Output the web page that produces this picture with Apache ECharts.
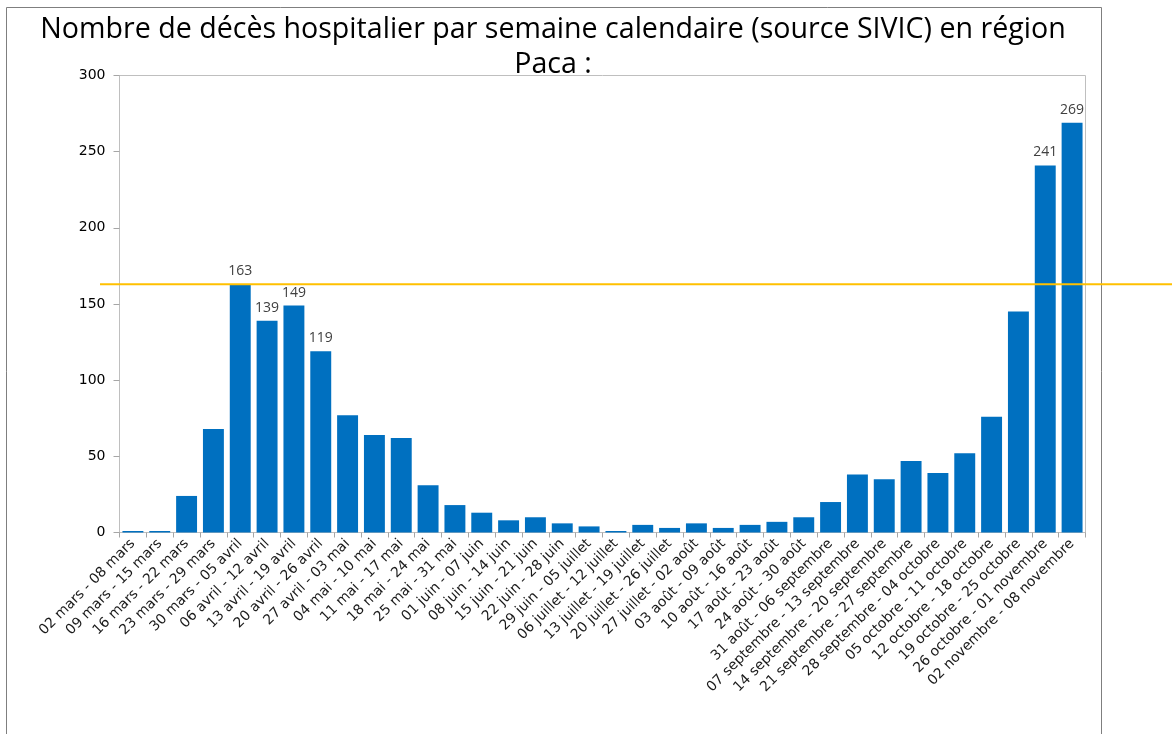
<!DOCTYPE html>
<html>
<head>
<meta charset="utf-8">
<script src="https://cdn.jsdelivr.net/npm/echarts@6/dist/echarts.min.js"></script>
<style>
html,body{margin:0;padding:0;background:#fff;}
#chart{width:1176px;height:734px;}
</style>
</head>
<body>
<div id="chart"></div>
<script>
const titleText = "Nombre de décès hospitalier par semaine calendaire (source SIVIC) en région\nPaca :";
const categories = [
  "02 mars - 08 mars","09 mars - 15 mars","16 mars - 22 mars","23 mars - 29 mars",
  "30 mars - 05 avril","06 avril - 12 avril","13 avril - 19 avril","20 avril - 26 avril",
  "27 avril - 03 mai","04 mai - 10 mai","11 mai - 17 mai","18 mai - 24 mai",
  "25 mai - 31 mai","01 juin - 07 juin","08 juin - 14 juin","15 juin - 21 juin",
  "22 juin - 28 juin","29 juin - 05 juillet","06 juillet - 12 juillet","13 juillet - 19 juillet",
  "20 juillet - 26 juillet","27 juillet - 02 août","03 août - 09 août","10 août - 16 août",
  "17 août - 23 août","24 août - 30 août","31 août - 06 septembre","07 septembre - 13 septembre",
  "14 septembre - 20 septembre","21 septembre - 27 septembre","28 septembre - 04 octobre","05 octobre - 11 octobre",
  "12 octobre - 18 octobre","19 octobre - 25 octobre","26 octobre - 01 novembre","02 novembre - 08 novembre"
];
const deces = [
  1, 1, 24, 68, 163, 139, 149, 119, 77, 64, 62, 31,
  18, 13, 8, 10, 6, 4, 1, 5, 3, 6, 3, 5,
  7, 10, 20, 38, 35, 47, 39, 52, 76, 145, 241, 269
];
const labelledIdx = [4, 5, 6, 7, 34, 35];
const refLevel = 163;
const yTicks = [0, 50, 100, 150, 200, 250, 300];

const chart = echarts.init(document.getElementById('chart'), null, {renderer: 'canvas'});
const axisFont = '"DejaVu Sans", sans-serif';

const seriesData = deces.map((v, i) => ({
  value: v,
  label: {show: labelledIdx.indexOf(i) >= 0}
}));

const option = {
  backgroundColor: '#ffffff',
  animation: false,
  title: {
    text: titleText,
    left: 548,
    textAlign: 'center',
    top: 7,
    textStyle: {
      fontFamily: '"Open Sans", sans-serif',
      fontSize: 28.6,
      fontWeight: 'normal',
      color: '#000000',
      lineHeight: 35
    }
  },
  grid: {
    left: 119.5,
    right: 90.5,
    top: 75.5,
    bottom: 201.5,
    show: true,
    borderColor: '#BFBFBF',
    borderWidth: 1,
    containLabel: false
  },
  xAxis: {
    type: 'category',
    data: categories,
    boundaryGap: true,
    axisLine: {show: true, lineStyle: {color: '#BFBFBF', width: 1}},
    axisTick: {show: true, alignWithLabel: false, length: 5, lineStyle: {color: '#A6A6A6'}},
    axisLabel: {
      interval: 0,
      rotate: 45,
      margin: 9,
      fontFamily: axisFont,
      fontSize: 14,
      color: '#1a1a1a'
    },
    splitLine: {show: false}
  },
  yAxis: {
    type: 'value',
    min: yTicks[0],
    max: yTicks[yTicks.length - 1],
    interval: yTicks[1] - yTicks[0],
    axisLine: {show: true, lineStyle: {color: '#BFBFBF', width: 1}},
    axisTick: {show: true, length: 6, lineStyle: {color: '#A6A6A6'}},
    axisLabel: {
      margin: 14,
      fontFamily: axisFont,
      fontSize: 14,
      color: '#000000'
    },
    splitLine: {show: false}
  },
  series: [{
    type: 'bar',
    data: seriesData,
    barCategoryGap: '22%',
    itemStyle: {color: '#0070C0'},
    label: {
      position: 'top',
      distance: 6,
      fontFamily: '"Open Sans", "Liberation Sans", sans-serif',
      fontSize: 14,
      color: '#404040'
    }
  }]
};
chart.setOption(option);

// outer chart frame and the reference (first-wave peak) line extending past the plot
const yRef = chart.convertToPixel({yAxisIndex: 0}, refLevel);
chart.setOption({
  graphic: [
    {
      type: 'rect',
      shape: {x: 6.5, y: 7.5, width: 1095, height: 760},
      style: {fill: null, stroke: '#7F7F7F', lineWidth: 1},
      silent: true,
      z: 0
    },
    {
      type: 'line',
      shape: {x1: 100, y1: yRef, x2: 1172, y2: yRef},
      style: {stroke: '#FFC000', lineWidth: 2},
      silent: true,
      z: 100
    }
  ]
});
</script>
</body>
</html>
